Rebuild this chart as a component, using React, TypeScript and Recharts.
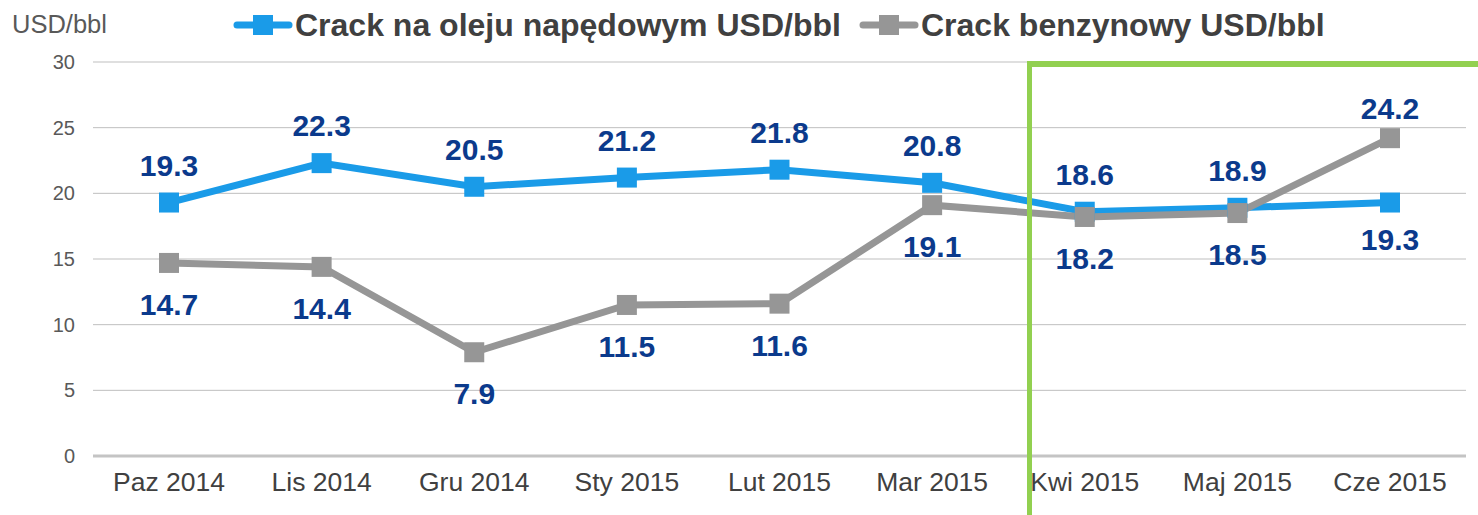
import { LineChart, Line, XAxis, YAxis, CartesianGrid, LabelList } from 'recharts';

const months = ['Paz 2014', 'Lis 2014', 'Gru 2014', 'Sty 2015', 'Lut 2015', 'Mar 2015', 'Kwi 2015', 'Maj 2015', 'Cze 2015'];
const dieselCrack = [19.3, 22.3, 20.5, 21.2, 21.8, 20.8, 18.6, 18.9, 19.3];
const gasolineCrack = [14.7, 14.4, 7.9, 11.5, 11.6, 19.1, 18.2, 18.5, 24.2];
const yTicks = [0, 5, 10, 15, 20, 25, 30];

const dieselName = 'Crack na oleju napędowym USD/bbl';
const gasolineName = 'Crack benzynowy USD/bbl';

// months where the two labels swap sides (gasoline above, diesel below)
const swapped = ['Cze 2015'];

const data = months.map((m, i) => ({
	month: m,
	diesel: dieselCrack[i],
	gasoline: gasolineCrack[i],
}));

const BLUE = '#1A9BE8';
const GRAY = '#969696';
const LABEL = '#0B3A8C';
const FONT = '"Liberation Sans", Arial, sans-serif';

const squareDot = (color: string) => (props: any) => {
	const { cx, cy, index } = props;
	if (cx == null || cy == null) return <g key={index} />;
	return <rect key={index} x={cx - 10} y={cy - 10} width={20} height={20} fill={color} />;
};

const makeLabel = (series: 'diesel' | 'gasoline') => (props: any) => {
	const x = props.x ?? props.viewBox?.x;
	const y = props.y ?? props.viewBox?.y;
	const { value, index } = props;
	if (x == null || y == null) return null;
	const flip = swapped.includes(months[index]);
	const above = series === 'diesel' ? !flip : flip;
	// swapped labels sit a little closer to their points
	const dy = above ? (flip ? -19 : -27) : flip ? 47 : 52;
	return (
		<text
			x={x}
			y={y + dy}
			fill={LABEL}
			textAnchor='middle'
			fontFamily={FONT}
			fontWeight='bold'
			fontSize={30}
		>
			{Number(value).toFixed(1)}
		</text>
	);
};

const LegendItem = ({ x, color, text }: any) => (
	<g>
		<line x1={x + 3} y1={25} x2={x + 55} y2={25} stroke={color} strokeWidth={7} strokeLinecap='round' />
		<rect x={x + 19} y={15} width={20} height={20} fill={color} />
		<text x={x + 61} y={36} fill='#404040' fontFamily={FONT} fontWeight='bold' fontSize={32}>
			{text}
		</text>
	</g>
);

const App = () => {
	return (
		<div
			style={{
				position: 'fixed',
				left: 0,
				top: 0,
				width: 1478,
				height: 515,
				overflow: 'hidden',
				background: '#fff',
			}}
		>
			<LineChart width={1478} height={515} data={data} margin={{ top: 62, right: 12, left: 0, bottom: 0 }}>
				<CartesianGrid vertical={false} stroke='#BFBFBF' strokeWidth={1} />
				<XAxis
					dataKey='month'
					height={59}
					padding={{ left: 76, right: 76 }}
					tickLine={false}
					axisLine={{ stroke: '#C4C4C4', strokeWidth: 3 }}
					tickMargin={10}
					tick={{ fontSize: 26.5, fill: '#404040', fontFamily: FONT }}
					interval={0}
				/>
				<YAxis
					width={93}
					domain={[0, 30]}
					ticks={yTicks}
					tickLine={false}
					axisLine={false}
					tickMargin={12}
					tick={{ fontSize: 20, fill: '#595959', fontFamily: FONT }}
				/>
				<Line
					dataKey='diesel'
					name={dieselName}
					stroke={BLUE}
					strokeWidth={7}
					dot={squareDot(BLUE)}
					activeDot={false}
					isAnimationActive={false}
				>
					<LabelList dataKey='diesel' content={makeLabel('diesel')} />
				</Line>
				<Line
					dataKey='gasoline'
					name={gasolineName}
					stroke={GRAY}
					strokeWidth={7}
					dot={squareDot(GRAY)}
					activeDot={false}
					isAnimationActive={false}
				>
					<LabelList dataKey='gasoline' content={makeLabel('gasoline')} />
				</Line>
			</LineChart>
			<svg width={1478} height={50} style={{ position: 'absolute', left: 0, top: 0 }}>
				<text x={12} y={33} fill='#595959' fontFamily={FONT} fontSize={25.5}>
					USD/bbl
				</text>
				<LegendItem x={234} color={BLUE} text={dieselName} />
				<LegendItem x={860} color={GRAY} text={gasolineName} />
			</svg>
			<div
				style={{
					position: 'absolute',
					left: 1027,
					top: 61,
					width: 500,
					height: 500,
					borderLeft: '5px solid #92D050',
					borderTop: '6px solid #92D050',
				}}
			/>
		</div>
	);
};

export default App;
